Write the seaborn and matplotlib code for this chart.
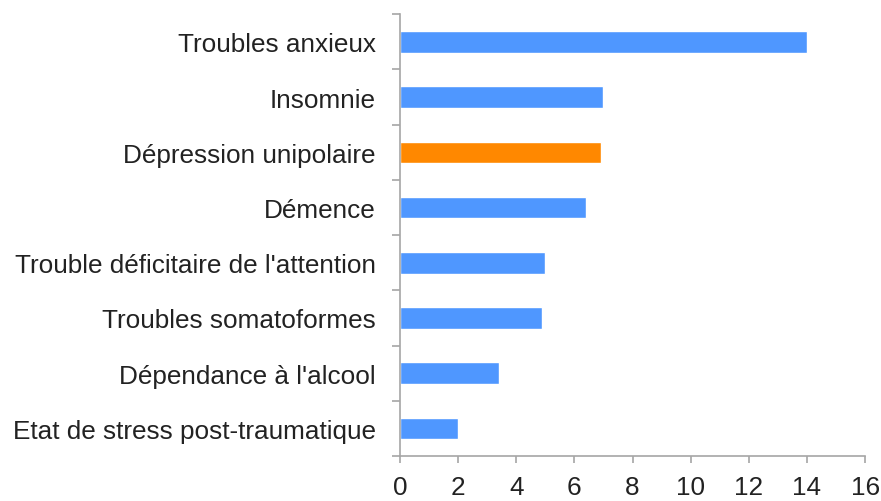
import pandas as pd
import numpy as np

import matplotlib
matplotlib.use("Agg")

import matplotlib.pyplot as plt
import seaborn as sns
from matplotlib.ticker import FixedLocator

# -------------------------------------------------------
# DONNEES
# -------------------------------------------------------

troubles = [
    "Troubles anxieux",
    "Insomnie",
    "Dépression unipolaire",
    "Démence",
    "Trouble déficitaire de l'attention",
    "Troubles somatoformes",
    "Dépendance à l'alcool",
    "Etat de stress post-traumatique",
]
valeurs = [14.0, 7.0, 6.9, 6.4, 5.0, 4.9, 3.4, 2.0]
couleurs = ["#4f97ff", "#4f97ff", "#ff8800", "#4f97ff",
            "#4f97ff", "#4f97ff", "#4f97ff", "#4f97ff"]
x_ticks = [0, 2, 4, 6, 8, 10, 12, 14, 16]

# -------------------------------------------------------
# CONFIGURATION
# -------------------------------------------------------

sns.set_theme(style="white")
plt.rcParams["font.family"] = ["Liberation Sans", "DejaVu Sans"]

df = pd.DataFrame({"trouble": troubles, "valeur": valeurs})

fig = plt.figure(figsize=(8.81, 5.02), dpi=100)
ax = fig.add_axes([0.454, 0.0896, 0.528, 0.880])

sns.barplot(
    data=df,
    x="valeur",
    y="trouble",
    hue="trouble",
    palette=couleurs,
    legend=False,
    width=0.39,
    saturation=1,
    ax=ax,
)

ax.set_xlim(0, 16)
ax.set_ylim(len(troubles) - 0.5, -0.5)
ax.set_xticks(x_ticks)
ax.set_xlabel("")
ax.set_ylabel("")

# axes gris
for side in ["top", "right"]:
    ax.spines[side].set_visible(False)
for side in ["left", "bottom"]:
    ax.spines[side].set_color("#a6a6a6")
    ax.spines[side].set_linewidth(1.2)

# graduations aux limites des catégories
ax.yaxis.set_minor_locator(FixedLocator(np.arange(-0.5, len(troubles), 1)))
ax.tick_params(axis="y", which="major", length=0, pad=17.5, labelsize=18.8,
               labelcolor="#222222")
ax.tick_params(axis="y", which="minor", left=True, length=6, width=1.2,
               color="#a6a6a6")
ax.tick_params(axis="x", which="major", bottom=True, length=5, width=1.2,
               color="#a6a6a6", pad=9, labelsize=18.8, labelcolor="#222222")

plt.savefig("out.png", dpi=100)
plt.close()
